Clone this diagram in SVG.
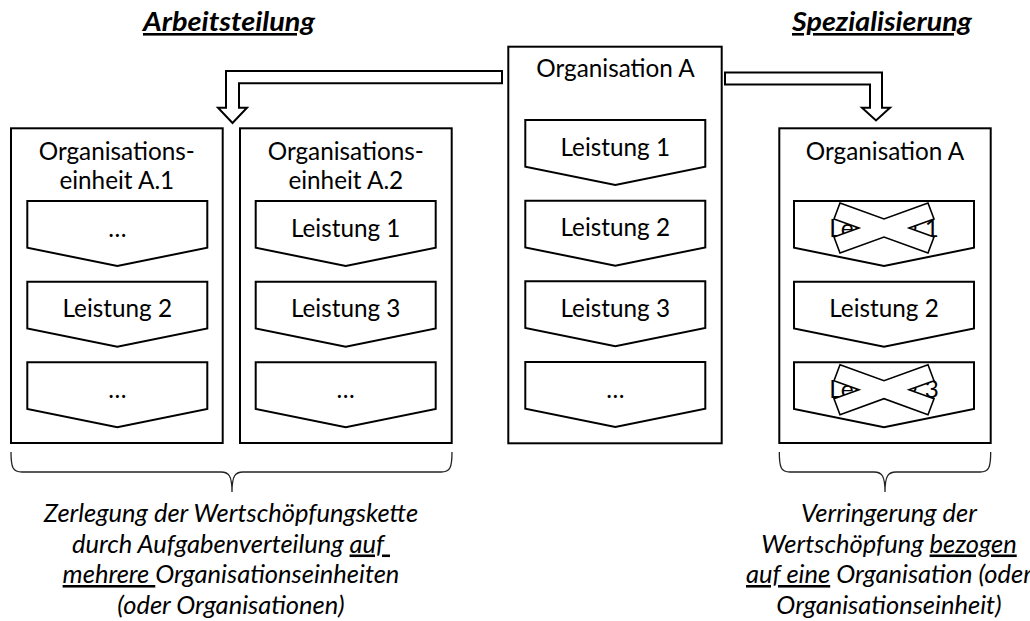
<svg xmlns="http://www.w3.org/2000/svg" xmlns:xlink="http://www.w3.org/1999/xlink" width="1030" height="621" viewBox="0 0 1030 621">
<style>
.box{fill:#fff;stroke:#000;stroke-width:2}
.shape{fill:#fff;stroke:#000;stroke-width:2}
.t{font-family:Lato,"Liberation Sans",sans-serif;font-size:24.3px;text-anchor:middle;fill:#000}
.it{font-style:italic;white-space:pre;font-size:25.5px}
.title{font-family:Lato,"Liberation Sans",sans-serif;font-size:26px;font-weight:bold;font-style:italic;text-decoration:underline;text-anchor:middle}
.cross{fill:#fff;stroke:#000;stroke-width:1.6;stroke-linejoin:miter}
.arrow{fill:#fff;stroke:#000;stroke-width:2}
.brace{fill:none;stroke:#222;stroke-width:1.3}
.u{text-decoration:underline}
</style>
<defs>
<path id="chev" class="shape" d="M0,0 H180 V46.7 L90,65 L0,46.7 Z"/>
<path id="xmark" class="cross" d="M-44,-25 L0,-9 L44,-25 L50,-9 L25,0 L50,9 L44,25 L0,9 L-44,25 L-50,9 L-25,0 L-50,-9 Z"/>
</defs>

<text class="title" x="229" y="31" textLength="172" lengthAdjust="spacingAndGlyphs">Arbeitsteilung</text>
<text class="title" x="882" y="31" textLength="180" lengthAdjust="spacingAndGlyphs">Spezialisierung</text>

<g id="connectors">
<path class="arrow" d="M502,71 V83.3 H239 V107.7 H247 L232.5,123 L218,107.7 H226 V71 Z"/>
<path class="arrow" d="M725,72.5 H882 V107.7 H890 L876,120.5 L862,107.7 H870 V84.5 H725 Z"/>
<path class="brace" d="M11,452 C11,468 13,472 22,472 H221 C229,472 232,476 232,492 C232,476 235,472 243,472 H441 C450,472 452,468 452,452"/>
<path class="brace" d="M779.3,452 C779.3,468 781.3,472 790,472 H874 C882,472 885,476 885,492 C885,476 888,472 896,472 H980 C988.7,472 990.7,468 990.7,452"/>
</g>

<g id="einheitA1">
<rect class="box" x="11" y="128.3" width="211.7" height="314.7"/>
<text class="t" x="116.8" y="159.5">Organisations-</text>
<text class="t" x="116.8" y="189">einheit A.1</text>
<use xlink:href="#chev" x="27.3" y="201"/>
<text class="t" x="117.3" y="236.7">…</text>
<use xlink:href="#chev" x="27.3" y="281.7"/>
<text class="t" x="117.3" y="317.4">Leistung 2</text>
<use xlink:href="#chev" x="27.3" y="362.3"/>
<text class="t" x="117.3" y="398">…</text>
</g>

<g id="einheitA2">
<rect class="box" x="240" y="128.3" width="211.7" height="314.7"/>
<text class="t" x="345.8" y="159.5">Organisations-</text>
<text class="t" x="345.8" y="189">einheit A.2</text>
<use xlink:href="#chev" x="255.7" y="201"/>
<text class="t" x="345.7" y="236.7">Leistung 1</text>
<use xlink:href="#chev" x="255.7" y="281.7"/>
<text class="t" x="345.7" y="317.4">Leistung 3</text>
<use xlink:href="#chev" x="255.7" y="362.3"/>
<text class="t" x="345.7" y="398">…</text>
</g>

<g id="organisationA">
<rect class="box" x="508.3" y="46.7" width="213.4" height="396.6"/>
<text class="t" x="615.5" y="76.7">Organisation A</text>
<use xlink:href="#chev" x="525.3" y="120"/>
<text class="t" x="615.3" y="155.7">Leistung 1</text>
<use xlink:href="#chev" x="525.3" y="200.7"/>
<text class="t" x="615.3" y="236.4">Leistung 2</text>
<use xlink:href="#chev" x="525.3" y="281.3"/>
<text class="t" x="615.3" y="317">Leistung 3</text>
<use xlink:href="#chev" x="525.3" y="362"/>
<text class="t" x="615.3" y="397.7">…</text>
</g>

<g id="organisationA-spezialisiert">
<rect class="box" x="779.3" y="128.3" width="211.4" height="314.7"/>
<text class="t" x="885" y="159.5">Organisation A</text>
<use xlink:href="#chev" x="794" y="201"/>
<text class="t" x="884" y="236.7">Leistung 1</text>
<use xlink:href="#xmark" x="884" y="228"/>
<use xlink:href="#chev" x="794" y="281.7"/>
<text class="t" x="884" y="317.4">Leistung 2</text>
<use xlink:href="#chev" x="794" y="362.3"/>
<text class="t" x="884" y="398">Leistung 3</text>
<use xlink:href="#xmark" x="884" y="389.7"/>
</g>

<g id="beschreibung-arbeitsteilung">
<text class="t it" x="231" y="522">Zerlegung der Wertschöpfungskette</text>
<text class="t it" x="231" y="552.5">durch Aufgabenverteilung <tspan class="u">auf </tspan></text>
<text class="t it" x="231" y="583"><tspan class="u">mehrere </tspan>Organisationseinheiten</text>
<text class="t it" x="231" y="613.5">(oder Organisationen)</text>
</g>

<g id="beschreibung-spezialisierung">
<text class="t it" x="889" y="522">Verringerung der</text>
<text class="t it" x="889" y="552.5">Wertschöpfung <tspan class="u">bezogen</tspan></text>
<text class="t it" x="889" y="583"><tspan class="u">auf eine</tspan> Organisation (oder</text>
<text class="t it" x="889" y="613.5">Organisationseinheit)</text>
</g>
</svg>
